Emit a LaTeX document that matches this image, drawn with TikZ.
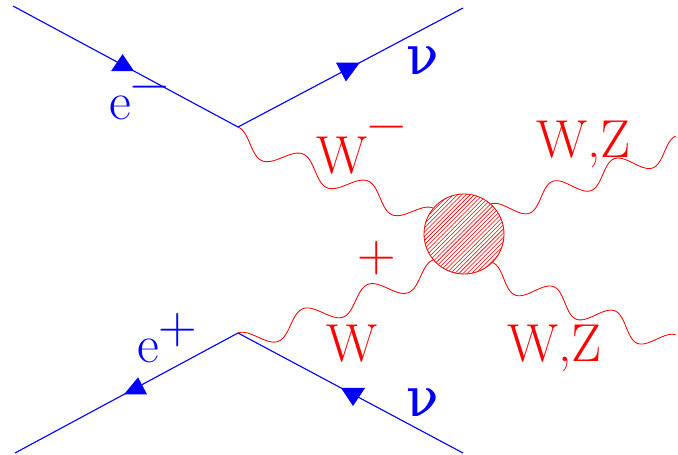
\documentclass[tikz,border=0pt]{standalone}
\usepackage{fontspec}
\newfontfamily\grfont{DejaVu Serif}
\usepackage{tikz}
\usetikzlibrary{calc,patterns}
\definecolor{fermblue}{HTML}{0000FF}
\definecolor{bosred}{HTML}{FF0000}

\begin{document}
\begin{tikzpicture}[x=0.25mm, y=0.25mm,
    fermion/.style={fermblue, line width=0.8pt, line join=miter},
    boson/.style={bosred, line width=0.6pt},
    blob/.style={circle, draw=bosred, line width=0.6pt, pattern=north east lines,
      pattern color=bosred, minimum size=20mm, inner sep=0pt},
    lbl/.style={font=\fontsize{38}{40}\selectfont, inner sep=0pt}]
  % Marco
  \useasboundingbox (0,0) rectangle (678,454);
  \def\A{7.8pt} % amplitud de la onda
  \def\N{3}     % periodos por linea

  % Vertices y extremos
  \coordinate (e1) at (13,448);
  \coordinate (v1) at (238,327);
  \coordinate (n1) at (463,446);
  \coordinate (e2) at (15,1);
  \coordinate (v2) at (238,121);
  \coordinate (n2) at (463,1);
  \coordinate (o1) at (676,318);
  \coordinate (o2) at (676,119);
  \node[blob] (blob) at (464,220) {};

  % Fermiones
  \draw[fermion] (e1) -- (v1) -- (n1);
  \draw[fermion] (e2) -- (v2) -- (n2);

  % Flechas
  \coordinate (f1) at ($(e1)!0.538!(v1)$);
  \coordinate (f2) at ($(v1)!0.542!(n1)$);
  \coordinate (f3) at ($(e2)!0.489!(v2)$);
  \coordinate (f4) at ($(v2)!0.458!(n2)$);
  \fill[fermblue] (f1) -- ++(-23,0) -- ++(11.5,17) -- cycle;
  \fill[fermblue] (f2) -- ++(-24,0) -- ++(10,-19) -- cycle;
  \fill[fermblue] (f3) -- ++(23,0) -- ++(-9,17) -- cycle;
  \fill[fermblue] (f4) -- ++(24,0) -- ++(-12,-18) -- cycle;

  % Bosones
  \foreach \ini/\fin in {v1/blob.140, v2/blob.220, blob.48/o1, blob.-45/o2}{
    \draw[boson] let \p2=(\ini), \p1=($(\fin)-(\ini)$), \n1={atan2(\y1,\x1)} in
      plot[variable=\t, domain=0:1, samples=150]
        ({\x2+\t*\x1+\A*(1-cos(360*\N*\t))*sin(\n1)},
         {\y2+\t*\y1-\A*(1-cos(360*\N*\t))*cos(\n1)});
  }

  % Etiquetas
  \node[lbl, anchor=base west, fermblue] (em) at (109,335) {e\raisebox{.34em}{−}};
  \node[lbl, anchor=base west, fermblue] (nu1) at (406,380) {\grfont ν};
  \node[lbl, anchor=base west, fermblue] (ep) at (137,92) {e\raisebox{.34em}{+}};
  \node[lbl, anchor=base west, fermblue] (nu2) at (406,38) {\grfont ν};
  \node[lbl, anchor=base west, bosred] (wm) at (316,281) {W\raisebox{.6em}{−}};
  \node[lbl, anchor=base west, bosred] (wp) at (326,93) {W};
  \node[lbl, bosred] (wplus) at (377,196) {+};
  \node[lbl, anchor=base west, bosred] (wz1) at (536,297) {W,Z};
  \node[lbl, anchor=base west, bosred] (wz2) at (507,93) {W,Z};
\end{tikzpicture}
\end{document}
